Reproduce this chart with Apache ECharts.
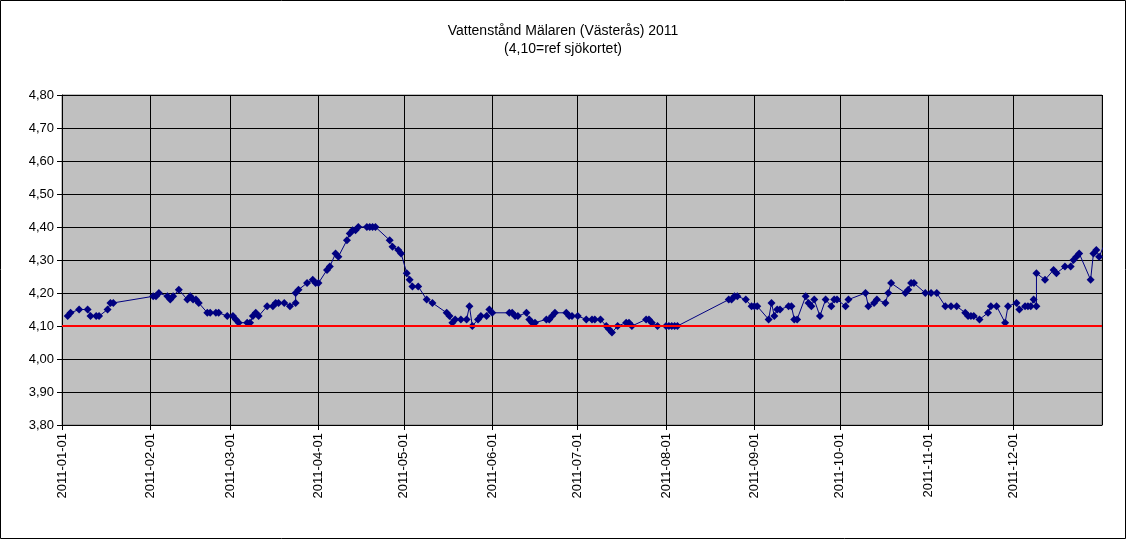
<!DOCTYPE html>
<html><head><meta charset="utf-8">
<script src="https://cdn.jsdelivr.net/npm/echarts@6/dist/echarts.min.js"></script>
<style>html,body{margin:0;padding:0;background:#fff}#c{width:1126px;height:539px}</style>
</head><body><div id="c"></div>
<script>
const titleText = "Vattenstånd Mälaren (Västerås) 2011";
const subText = "(4,10=ref sjökortet)";
const refLevel = 4.10;
// day of year (0 = 2011-01-01)
const days = [2,3,6,9,10,12,13,16,17,18,32,33,34,37,38,39,41,44,45,46,47,48,51,52,54,55,58,60,61,62,65,66,67,68,69,72,74,75,76,78,80,82,82,83,86,88,89,90,93,94,96,97,100,101,102,103,104,107,108,109,110,115,116,118,119,121,122,123,125,128,130,135,136,137,138,140,142,143,144,146,147,149,150,151,157,158,159,160,163,164,165,166,170,171,172,173,177,178,179,181,184,186,187,189,191,192,193,195,198,199,200,205,206,207,209,212,213,214,215,216,234,235,236,237,240,242,243,244,248,249,250,251,252,255,256,257,258,261,262,263,264,266,268,270,271,272,275,276,282,283,285,286,289,290,291,296,297,298,299,303,305,307,310,312,314,317,318,319,320,322,325,326,328,331,332,335,336,338,339,340,341,342,342,345,348,349,352,354,355,356,357,361,362,363,364,366];
const levels = [4.13,4.14,4.15,4.15,4.13,4.13,4.13,4.15,4.17,4.17,4.19,4.19,4.20,4.19,4.18,4.19,4.21,4.18,4.19,4.18,4.18,4.17,4.14,4.14,4.14,4.14,4.13,4.13,4.12,4.11,4.11,4.11,4.13,4.14,4.13,4.16,4.16,4.17,4.17,4.17,4.16,4.17,4.20,4.21,4.23,4.24,4.23,4.23,4.27,4.28,4.32,4.31,4.36,4.38,4.39,4.39,4.40,4.40,4.40,4.40,4.40,4.36,4.34,4.33,4.32,4.26,4.24,4.22,4.22,4.18,4.17,4.14,4.13,4.11,4.12,4.12,4.12,4.16,4.10,4.12,4.13,4.13,4.15,4.14,4.14,4.14,4.13,4.13,4.14,4.12,4.11,4.11,4.12,4.12,4.13,4.14,4.14,4.13,4.13,4.13,4.12,4.12,4.12,4.12,4.10,4.09,4.08,4.10,4.11,4.11,4.10,4.12,4.12,4.11,4.10,4.10,4.10,4.10,4.10,4.10,4.18,4.18,4.19,4.19,4.18,4.16,4.16,4.16,4.12,4.17,4.13,4.15,4.15,4.16,4.16,4.12,4.12,4.19,4.17,4.16,4.18,4.13,4.18,4.16,4.18,4.18,4.16,4.18,4.20,4.16,4.17,4.18,4.17,4.20,4.23,4.20,4.21,4.23,4.23,4.20,4.20,4.20,4.16,4.16,4.16,4.14,4.13,4.13,4.13,4.12,4.14,4.16,4.16,4.11,4.16,4.17,4.15,4.16,4.16,4.16,4.18,4.16,4.26,4.24,4.27,4.26,4.28,4.28,4.30,4.31,4.32,4.24,4.32,4.33,4.31,4.35];
const yTicks = [3.8,4.8,0.1];

const toDate = d => new Date(2011,0,1+d).getTime();
const data = days.map((d,i)=>[toDate(d), levels[i]]);
const pad = n => (n<10?'0':'')+n;
const chart = echarts.init(document.getElementById('c'));
chart.setOption({
  animation:false,
  textStyle:{fontFamily:'Liberation Sans, Arial'},
  title:{text:titleText+"\n"+subText,left:'center',top:17,
    textStyle:{fontSize:14,fontWeight:'normal',color:'#000',lineHeight:18,fontFamily:'Liberation Sans'}},
  graphic:[{type:'rect',shape:{x:0.5,y:0.5,width:1125,height:538},style:{fill:null,stroke:'#000',lineWidth:1},silent:true}],
  grid:{left:62,right:24,top:95,bottom:114,show:true,backgroundColor:'#C0C0C0',borderColor:'#808080',borderWidth:1},
  xAxis:{type:'time',min:toDate(0),max:toDate(365),splitNumber:12,
    axisLine:{lineStyle:{color:'#000'}},
    axisTick:{show:true,lineStyle:{color:'#000'}},
    splitLine:{show:true,lineStyle:{color:'#000',width:1}},
    axisLabel:{rotate:90,color:'#000',fontSize:13,showMaxLabel:false,hideOverlap:false,
      formatter:v=>{const d=new Date(v);return d.getFullYear()+'-'+pad(d.getMonth()+1)+'-'+pad(d.getDate());}}},
  yAxis:{type:'value',min:yTicks[0],max:yTicks[1],interval:yTicks[2],
    axisLine:{show:true,lineStyle:{color:'#000'}},axisTick:{show:true,lineStyle:{color:'#000'}},
    splitLine:{lineStyle:{color:'#000',width:1}},
    axisLabel:{color:'#000',fontSize:13,formatter:v=>v.toFixed(2).replace('.',',')}},
  series:[{type:'line',data:data,clip:true,symbol:'diamond',symbolSize:8,
    itemStyle:{color:'#000080'},lineStyle:{color:'#000080',width:1},
    markLine:{silent:true,symbol:'none',label:{show:false},lineStyle:{color:'#FF0000',width:2,type:'solid'},data:[{yAxis:refLevel}]}}]
});
</script></body></html>
